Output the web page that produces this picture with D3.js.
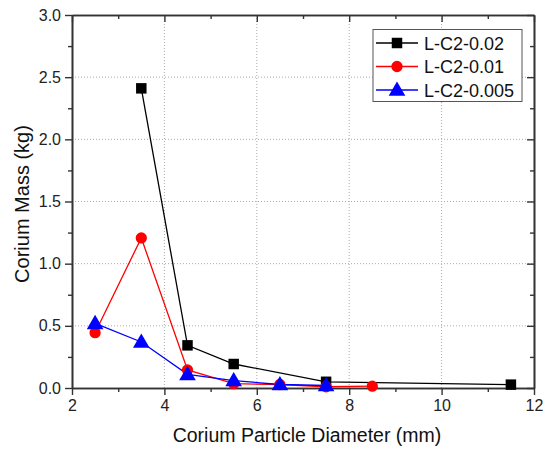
<!DOCTYPE html>
<html>
<head>
<meta charset="utf-8">
<script src="https://cdn.jsdelivr.net/npm/d3@7"></script>
<style>
  body { margin: 0; background: #fff; }
  svg { font-family: "Liberation Sans", Arial, sans-serif; }
</style>
</head>
<body>
<svg width="549" height="449"></svg>
<script>
// data
const seriesNames = ["L-C2-0.02", "L-C2-0.01", "L-C2-0.005"];
const seriesColors = ["#000000", "#ff0000", "#0000ff"];
const seriesSymbols = [d3.symbolSquare, d3.symbolCircle, d3.symbolTriangle];

const x002 = [3.5, 4.5, 5.5, 7.5, 11.5];
const y002 = [2.41, 0.343, 0.193, 0.05, 0.027];

const x001 = [2.5, 3.5, 4.5, 5.5, 6.5, 7.5, 8.5];
const y001 = [0.445, 1.207, 0.145, 0.035, 0.028, 0.01, 0.015];

const x0005 = [2.5, 3.5, 4.5, 5.5, 6.5, 7.5];
const y0005 = [0.52, 0.37, 0.11, 0.06, 0.028, 0.02];

const xTicks = [2, 4, 6, 8, 10, 12];
const yTicks = [0.0, 0.5, 1.0, 1.5, 2.0, 2.5, 3.0];

const allSeries = [
  { name: seriesNames[0], xs: x002, ys: y002 },
  { name: seriesNames[1], xs: x001, ys: y001 },
  { name: seriesNames[2], xs: x0005, ys: y0005 },
];

const margin = { left: 72, top: 15, right: 15, bottom: 61 };
const width = 549 - margin.left - margin.right;
const height = 449 - margin.top - margin.bottom;

const svg = d3.select("svg");
const g = svg.append("g").attr("transform", "translate(" + margin.left + "," + margin.top + ")");

const scaleX = d3.scaleLinear().domain([2, 12]).range([0, width]);
const scaleY = d3.scaleLinear().domain([0, 3]).range([height, 0]);

// dotted grid
g.append("g")
  .selectAll("line")
  .data(xTicks.slice(1, -1))
  .enter()
  .append("line")
  .attr("x1", (d) => scaleX(d))
  .attr("x2", (d) => scaleX(d))
  .attr("y1", 0)
  .attr("y2", height)
  .attr("stroke", "#aaa")
  .attr("stroke-width", 1)
  .attr("stroke-dasharray", "1,2");

g.append("g")
  .selectAll("line")
  .data(yTicks.slice(1, -1))
  .enter()
  .append("line")
  .attr("x1", 0)
  .attr("x2", width)
  .attr("y1", (d) => scaleY(d))
  .attr("y2", (d) => scaleY(d))
  .attr("stroke", "#aaa")
  .attr("stroke-width", 1)
  .attr("stroke-dasharray", "1,2");

const axisColor = "#333";
const xMinor = d3.range(3, 12, 2);
const yMinor = d3.range(0.25, 3, 0.5);

function styleAxis(sel) {
  sel.selectAll("path").attr("stroke", axisColor).attr("stroke-width", 1.6);
  sel.selectAll("line").attr("stroke", axisColor).attr("stroke-width", 1.4);
  sel.selectAll("text").attr("fill", "#222").style("font-size", "16px");
}

// bottom axis
g.append("g")
  .attr("transform", "translate(0," + height + ")")
  .call(d3.axisBottom(scaleX).tickValues(xTicks).tickSize(7).tickPadding(5).tickSizeOuter(0).tickFormat(d3.format("d")))
  .call(styleAxis);
g.append("g")
  .attr("transform", "translate(0," + height + ")")
  .call(d3.axisBottom(scaleX).tickValues(xMinor).tickSize(4).tickFormat("").tickSizeOuter(0))
  .call(styleAxis);

// top axis (ticks inward)
g.append("g")
  .call(d3.axisBottom(scaleX).tickValues(xTicks).tickSize(7).tickFormat("").tickSizeOuter(0))
  .call(styleAxis);
g.append("g")
  .call(d3.axisBottom(scaleX).tickValues(xMinor).tickSize(4).tickFormat("").tickSizeOuter(0))
  .call(styleAxis);

// left axis
g.append("g")
  .call(d3.axisLeft(scaleY).tickValues(yTicks).tickSize(7).tickPadding(4).tickSizeOuter(0).tickFormat(d3.format(".1f")))
  .call(styleAxis);
g.append("g")
  .call(d3.axisLeft(scaleY).tickValues(yMinor).tickSize(4).tickFormat("").tickSizeOuter(0))
  .call(styleAxis);

// right axis (ticks inward)
g.append("g")
  .attr("transform", "translate(" + width + ",0)")
  .call(d3.axisLeft(scaleY).tickValues(yTicks).tickSize(7).tickFormat("").tickSizeOuter(0))
  .call(styleAxis);
g.append("g")
  .attr("transform", "translate(" + width + ",0)")
  .call(d3.axisLeft(scaleY).tickValues(yMinor).tickSize(4).tickFormat("").tickSizeOuter(0))
  .call(styleAxis);

// axis titles
svg.append("text")
  .attr("text-anchor", "middle")
  .attr("x", 307)
  .attr("y", 442)
  .style("font-size", "19.5px")
  .attr("fill", "#111")
  .text("Corium Particle Diameter (mm)");

svg.append("text")
  .attr("text-anchor", "middle")
  .attr("transform", "rotate(-90)")
  .attr("x", -204)
  .attr("y", 29)
  .style("font-size", "20px")
  .attr("fill", "#111")
  .text("Corium Mass (kg)");

// lines and markers
const line = d3.line().x((d) => scaleX(d[0])).y((d) => scaleY(d[1]));
const symbolSizes = [110, 100, 120];

allSeries.forEach((s, i) => {
  const pts = s.xs.map((xv, j) => [xv, s.ys[j]]);
  g.append("path")
    .datum(pts)
    .attr("d", line)
    .attr("fill", "none")
    .attr("stroke", seriesColors[i])
    .attr("stroke-width", 1.3);
});

allSeries.forEach((s, i) => {
  const pts = s.xs.map((xv, j) => [xv, s.ys[j]]);
  g.append("g")
    .selectAll("path")
    .data(pts)
    .enter()
    .append("path")
    .attr("d", d3.symbol().type(seriesSymbols[i]).size(symbolSizes[i]))
    .attr("transform", (d) => "translate(" + scaleX(d[0]) + "," + (scaleY(d[1]) + (i == 2 ? 1 : 0)) + ")")
    .attr("fill", seriesColors[i]);
});

// legend
const legend = svg.append("g");
legend.append("rect")
  .attr("x", 373)
  .attr("y", 29.5)
  .attr("width", 149)
  .attr("height", 72)
  .attr("fill", "#fff")
  .attr("stroke", "#555")
  .attr("stroke-width", 1);

seriesNames.forEach((name, i) => {
  const cy = 43 + i * 23.5;
  legend.append("line")
    .attr("x1", 376).attr("x2", 418)
    .attr("y1", cy).attr("y2", cy)
    .attr("stroke", seriesColors[i])
    .attr("stroke-width", 1.3);
  legend.append("path")
    .attr("d", d3.symbol().type(seriesSymbols[i]).size(symbolSizes[i]))
    .attr("transform", "translate(397," + (cy + (i == 2 ? 1 : 0)) + ")")
    .attr("fill", seriesColors[i]);
  legend.append("text")
    .attr("x", 424)
    .attr("y", cy + 6.5)
    .style("font-size", "18px")
    .attr("fill", "#111")
    .text(name);
});
</script>
</body>
</html>
